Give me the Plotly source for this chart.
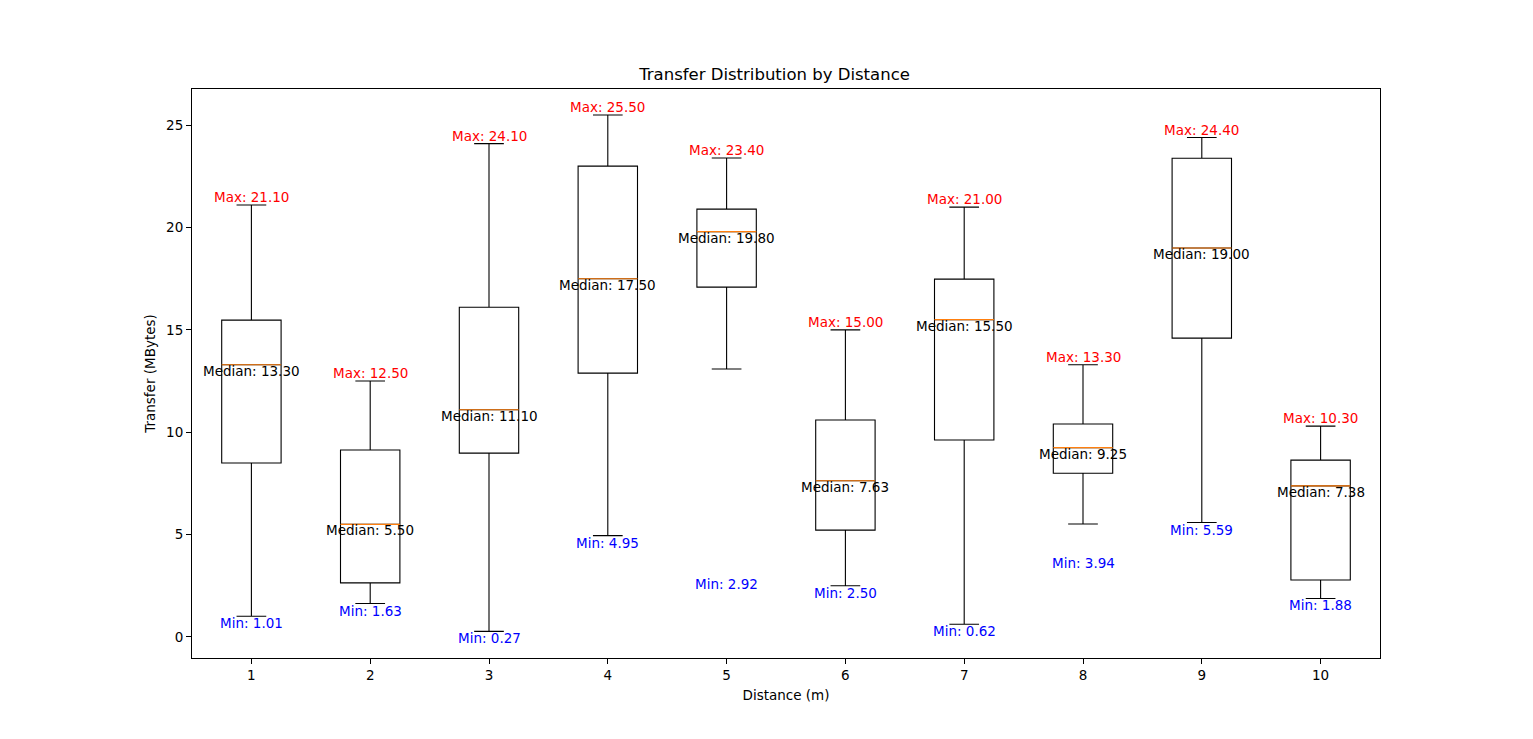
import plotly.graph_objects as go

# distances (m) and box statistics
distances = [1, 2, 3, 4, 5, 6, 7, 8, 9, 10]
q1 = [8.50, 2.64, 8.98, 12.89, 17.09, 5.22, 9.62, 8.00, 14.60, 2.78]
medians = [13.30, 5.50, 11.10, 17.50, 19.80, 7.63, 15.50, 9.25, 19.00, 7.38]
q3 = [15.48, 9.13, 16.11, 23.00, 20.90, 10.60, 17.48, 10.40, 23.39, 8.64]
whisker_low = [1.01, 1.63, 0.27, 4.95, 13.09, 2.50, 0.62, 5.52, 5.59, 1.88]
maxima = [21.10, 12.50, 24.10, 25.50, 23.40, 15.00, 21.00, 13.30, 24.40, 10.30]
minima = [1.01, 1.63, 0.27, 4.95, 2.92, 2.50, 0.62, 3.94, 5.59, 1.88]

FONT = "DejaVu Sans"
box_w = 0.5

fig = go.Figure()
fig.add_trace(go.Box(
    x=distances, q1=q1, median=medians, q3=q3,
    lowerfence=whisker_low, upperfence=maxima,
    width=box_w, whiskerwidth=0.5,
    fillcolor="rgba(0,0,0,0)", line=dict(color="black", width=1.1),
    boxpoints=False, showlegend=False, hoverinfo="skip",
))

# orange median lines drawn over the boxes
mx, my = [], []
for d, m in zip(distances, medians):
    mx += [d - box_w / 2, d + box_w / 2, None]
    my += [m, m, None]
fig.add_trace(go.Scatter(x=mx, y=my, mode="lines",
                         line=dict(color="#ff7f0e", width=1.1),
                         showlegend=False, hoverinfo="skip"))

for d, mx_v, mn_v, md in zip(distances, maxima, minima, medians):
    fig.add_annotation(x=d, y=mx_v, text=f"Max: {mx_v:.2f}", showarrow=False,
                       yanchor="bottom", font=dict(color="red", size=13.5, family=FONT),
                       borderpad=0, yshift=-1)
    fig.add_annotation(x=d, y=mn_v, text=f"Min: {mn_v:.2f}", showarrow=False,
                       yanchor="top", font=dict(color="blue", size=13.5, family=FONT),
                       borderpad=0, yshift=2)
    fig.add_annotation(x=d, y=md, text=f"Median: {md:.2f}", showarrow=False,
                       yanchor="top", font=dict(color="black", size=13.5, family=FONT),
                       borderpad=0, yshift=3)

axis_style = dict(showline=True, linecolor="black", linewidth=1, mirror=True,
                  ticks="outside", ticklen=5, tickcolor="black", showgrid=False,
                  zeroline=False, tickfont=dict(size=13.5, family=FONT, color="black"))

fig.update_layout(
    width=1533, height=739,
    margin=dict(l=184, r=161, t=81, b=89),
    paper_bgcolor="white", plot_bgcolor="white",
    font=dict(family=FONT, color="black"),
    title=dict(text="Transfer Distribution by Distance", x=0.5, xanchor="center",
               y=1 - 66 / 739, yanchor="middle", font=dict(size=16.5, family=FONT)),
    xaxis=dict(axis_style, range=[0.5, 10.5], tickmode="array", tickvals=distances,
               title=dict(text="Distance (m)", font=dict(size=13.5, family=FONT), standoff=8)),
    yaxis=dict(axis_style, range=[-1.03, 26.77], tickvals=[0, 5, 10, 15, 20, 25],
               title=dict(text="Transfer (MBytes)", font=dict(size=13.5, family=FONT), standoff=7)),
)

fig.write_html("out.html")
